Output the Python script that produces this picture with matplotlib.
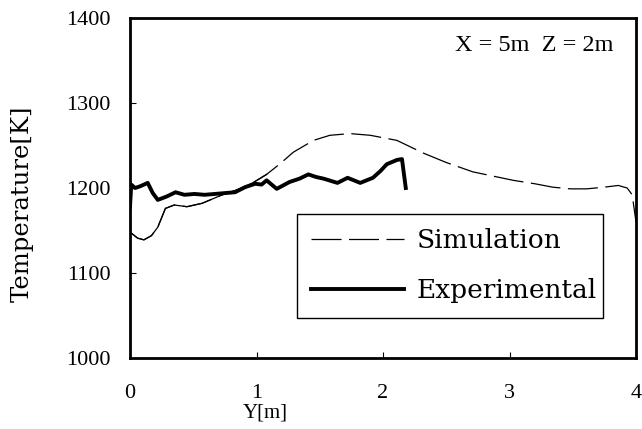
import numpy as np
import matplotlib
matplotlib.use("Agg")
import matplotlib.pyplot as plt

# simulated temperature profile along Y (X = 5m, Z = 2m)
y_sim = [0.0, 0.01, 0.06, 0.11, 0.17, 0.22, 0.28, 0.35, 0.45, 0.57, 0.73, 0.85,
         0.97, 1.08, 1.19, 1.29, 1.45, 1.58, 1.74, 1.90, 2.11, 2.32, 2.50,
         2.71, 2.87, 3.03, 3.20, 3.34, 3.48, 3.61, 3.75, 3.86, 3.93, 3.97, 4.0]
t_sim = [1150, 1147, 1141, 1139, 1144, 1154, 1176, 1180, 1178, 1182, 1192, 1198,
         1206, 1216, 1229, 1242, 1256, 1262, 1264, 1262, 1256, 1241, 1230,
         1219, 1214, 1209, 1205, 1201, 1199, 1199, 1201, 1203, 1200, 1192, 1160]

# thermocouple measurements
y_exp = [0.0, 0.01, 0.04, 0.08, 0.14, 0.18, 0.22, 0.29, 0.36, 0.43, 0.51, 0.59,
         0.67, 0.75, 0.83, 0.91, 0.99, 1.04, 1.08, 1.16, 1.26, 1.34, 1.41,
         1.47, 1.53, 1.64, 1.72, 1.82, 1.92, 1.98, 2.03, 2.11, 2.15, 2.18]
t_exp = [1178, 1204, 1200, 1202, 1206, 1194, 1186, 1190, 1195, 1192, 1193, 1192,
         1193, 1194, 1195, 1201, 1205, 1204, 1209, 1199, 1207, 1211, 1216,
         1213, 1211, 1206, 1212, 1206, 1212, 1220, 1228, 1233, 1234, 1200]

y_ticks = [0, 1, 2, 3, 4]
t_ticks = [1000, 1100, 1200, 1300, 1400]

serif = "Liberation Serif"
plt.rcParams["font.family"] = serif

fig = plt.figure(figsize=(6.42, 4.29), dpi=100)
ax = fig.add_axes([130 / 642, 1 - 358 / 429, 506 / 642, 340 / 429])

sim_line, = ax.plot(y_sim, t_sim, color="black", lw=0.9, ls=(0, (24, 6)),
                    label="Simulation")
# near the wall the printed curve is continuous
n_solid = 14
ax.plot(y_sim[:n_solid], t_sim[:n_solid], color="black", lw=0.9)
ax.plot(y_exp, t_exp, color="black", lw=2.8, solid_joinstyle="round",
        label="Experimental")

ax.set_xlim(0, 4)
ax.set_ylim(1000, 1400)
ax.set_xticks(y_ticks)
ax.set_yticks(t_ticks)
ax.tick_params(direction="in", length=4, width=0.8, labelsize=16)
ax.tick_params(axis="x", pad=19)
ax.tick_params(axis="y", pad=14)
for s in ax.spines.values():
    s.set_linewidth(2.0)

ax.set_xlabel("Y[m]", fontsize=15, labelpad=0)
ax.xaxis.set_label_coords(0.267, -0.135)
ax.set_ylabel("Temperature[K]", fontsize=17.5, family="DejaVu Serif", labelpad=0)
ax.yaxis.set_label_coords(-0.19, 0.454)

ax.text(0.955, 0.92, "X = 5m  Z = 2m", transform=ax.transAxes, ha="right",
        va="center", fontsize=17.5)

leg = ax.legend(loc="lower left", bbox_to_anchor=(0.33, 0.118, 0.605, 0.302),
                mode="expand", borderaxespad=0, fancybox=False, framealpha=1,
                edgecolor="black", handlelength=3.5, handletextpad=0.5,
                labelspacing=0.95, borderpad=0.55,
                prop={"family": "DejaVu Serif", "size": 19})
leg.get_frame().set_linewidth(1.0)

fig.savefig("out.png", dpi=100)
